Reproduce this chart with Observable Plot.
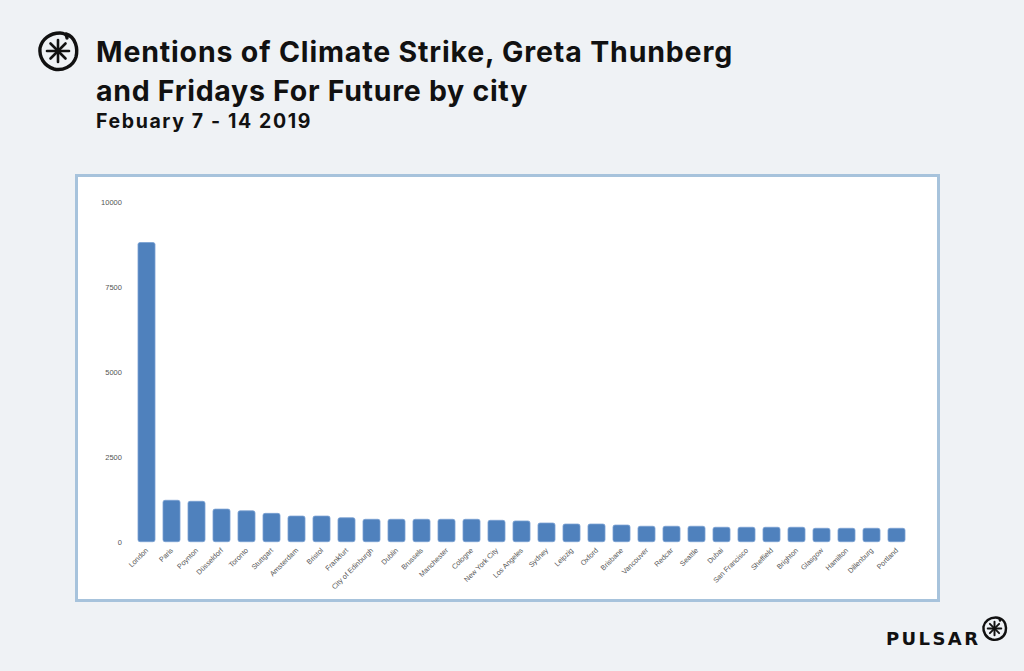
<!DOCTYPE html>
<html>
<head>
<meta charset="utf-8">
<script src="https://cdn.jsdelivr.net/npm/d3@7"></script>
<script src="https://cdn.jsdelivr.net/npm/@observablehq/plot@0.6"></script>
<style>
  html, body { margin: 0; padding: 0; background: #eff2f5; }
  #page { position: relative; width: 1024px; height: 671px; background: #eff2f5; overflow: hidden; }
  .title { position: absolute; left: 96px; font-family: Inter, Lato, "Noto Sans", sans-serif; font-weight: 700; font-size: 28.5px; line-height: 34px; color: #111; white-space: nowrap; }
  .subtitle { position: absolute; left: 96px; top: 109px; font-family: Inter, Lato, "Noto Sans", sans-serif; font-weight: 700; font-size: 19.5px; line-height: 24px; color: #111; white-space: nowrap; }
  #panel { position: absolute; left: 75px; top: 174px; width: 865px; height: 428px; box-sizing: border-box; border: 3px solid #a7c3dc; background: #ffffff; }
  #chart { position: absolute; left: 0; top: 0; }
  #chart svg { overflow: visible; }
  .brand { position: absolute; left: 886px; top: 628px; font-family: "DejaVu Sans", Lato, sans-serif; font-weight: 700; font-size: 18px; letter-spacing: 2.4px; color: #111; white-space: nowrap; }
  .logo { position: absolute; }
</style>
</head>
<body>
<div id="page">
  <svg class="logo" style="left:36px;top:29px" width="44" height="44" viewBox="0 0 44 44">
    <path d="M30 5 C 40 8, 42 20, 40 28 C 37 38, 26 42, 18 40 C 8 37, 3 28, 4 19 C 6 10, 14 4, 24 4 C 28 4, 31 6, 31 9" fill="none" stroke="#111" stroke-width="3.4" stroke-linecap="round"/>
    <g stroke="#111" stroke-width="2.6" stroke-linecap="round">
      <line x1="22" y1="11" x2="22" y2="33"/>
      <line x1="11" y1="22" x2="33" y2="22"/>
      <line x1="14.5" y1="14.5" x2="29.5" y2="29.5"/>
      <line x1="29.5" y1="14.5" x2="14.5" y2="29.5"/>
    </g>
  </svg>
  <div class="title" id="t1" style="top:35px">Mentions of Climate Strike, Greta Thunberg</div>
  <div class="title" id="t2" style="top:74px">and Fridays For Future by city</div>
  <div class="subtitle" id="sub">Febuary 7 - 14 2019</div>
  <div id="panel"><div id="chart"></div></div>
  <div class="brand" id="brand">PULSAR</div>
  <svg class="logo" style="left:981px;top:615px" width="27" height="27" viewBox="0 0 44 44">
    <path d="M30 5 C 40 8, 42 20, 40 28 C 37 38, 26 42, 18 40 C 8 37, 3 28, 4 19 C 6 10, 14 4, 24 4 C 28 4, 31 6, 31 9" fill="none" stroke="#111" stroke-width="4" stroke-linecap="round"/>
    <g stroke="#111" stroke-width="3.2" stroke-linecap="round">
      <line x1="22" y1="11" x2="22" y2="33"/>
      <line x1="11" y1="22" x2="33" y2="22"/>
      <line x1="14.5" y1="14.5" x2="29.5" y2="29.5"/>
      <line x1="29.5" y1="14.5" x2="14.5" y2="29.5"/>
    </g>
  </svg>
</div>
<script>
const cities = ["London","Paris","Poynton","Düsseldorf","Toronto","Stuttgart","Amsterdam","Bristol","Frankfurt","City of Edinburgh","Dublin","Brussels","Manchester","Cologne","New York City","Los Angeles","Sydney","Leipzig","Oxford","Brisbane","Vancouver","Redcar","Seattle","Dubai","San Francisco","Sheffield","Brighton","Glasgow","Hamilton","Dillenburg","Portland"];
const mentions = [8815,1220,1190,960,910,835,755,755,705,660,660,660,660,660,630,610,550,520,520,490,455,455,455,425,425,425,425,395,395,395,395];
const yTicks = [0,2500,5000,7500,10000];

const data = cities.map((city, i) => ({city, value: mentions[i]}));

// fit text widths to the reference by letter-spacing
function fit(id, target) {
  const el = document.getElementById(id);
  const n = el.textContent.length;
  const w = el.getBoundingClientRect().width;
  el.style.letterSpacing = ((target - w) / n) + "px";
}
fit("t1", 637);
fit("t2", 432);
fit("sub", 216);

const chart = Plot.plot({
  width: 859,
  height: 422,
  marginTop: 25.3,
  marginBottom: 57.3,
  marginLeft: 45.4,
  marginRight: 16.7,
  style: {fontFamily: "'Liberation Sans', Arial, sans-serif", background: "transparent", color: "#595959"},
  x: {domain: cities, paddingInner: 0.33, paddingOuter: 0.5, label: null},
  y: {domain: [0, 10000], label: null},
  marks: [
    Plot.barY(data, {x: "city", y: "value", fill: "#4f81bd", stroke: "#79a0d2", strokeWidth: 0.8, rx: 2}),
    Plot.axisY({ticks: yTicks, tickFormat: d => String(d), tickSize: 0, tickPadding: 2, fontSize: 7.5, fill: "#555", label: null}),
    Plot.axisX({tickSize: 0, tickRotate: -45, tickPadding: 7, fontSize: 7.2, fill: "#555", label: null})
  ]
});
document.getElementById("chart").appendChild(chart);
</script>
</body>
</html>
